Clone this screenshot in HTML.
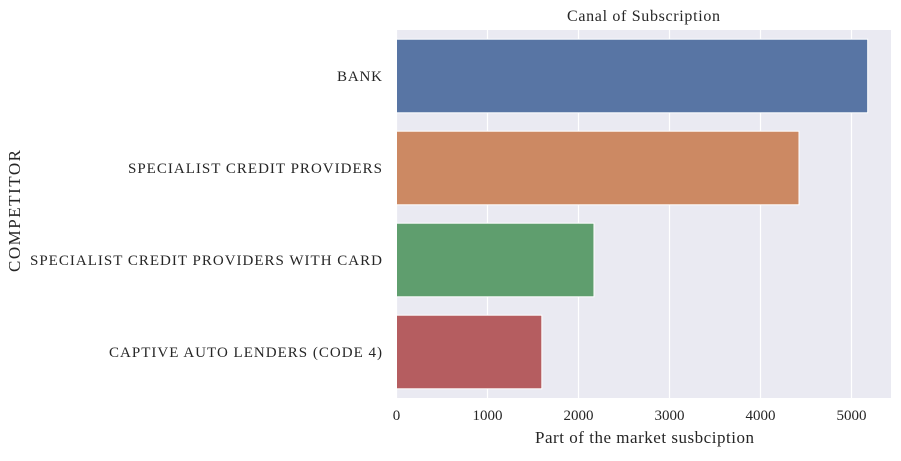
<!DOCTYPE html>
<html><head><meta charset="utf-8"><style>
body{margin:0;background:#fff;}
svg text{font-family:"Liberation Serif",serif;fill:#262626;}
</style></head><body>
<svg id="chart" width="901" height="456"></svg>
<script>
const categories=["BANK","SPECIALIST CREDIT PROVIDERS","SPECIALIST CREDIT PROVIDERS WITH CARD","CAPTIVE AUTO LENDERS (CODE 4)"];
const values=[5178,4423,2170,1597];
const colors=["#5875a4","#cc8963","#5f9e6e","#b55d60"];
const ticks=[0,1000,2000,3000,4000,5000];
const NS="http://www.w3.org/2000/svg";
const svg=document.getElementById('chart');
const L=396.5,R=891,T=30,B=398;
const x=v=>L+v*0.091;
const band=(B-T)/categories.length;
const y=i=>T+band*(i+0.5);
const labelWidths=[45,254,352,273];
function mk(t,a,p){const e=document.createElementNS(NS,t);for(const k in a)e.setAttribute(k,a[k]);(p||svg).appendChild(e);return e;}
function fit(e,w){e.setAttribute('textLength',w);e.setAttribute('lengthAdjust','spacing');}
const bg=mk('rect',{x:L,y:T,width:R-L,height:B-T,fill:'#eaeaf2'});


ticks.forEach(t=>{
 const g=mk('line',{x1:x(t),x2:x(t),y1:T,y2:B,stroke:'#fff','stroke-width':1.2});
 
 
 const tx=mk('text',{x:x(t),y:420,'text-anchor':'middle','font-size':15});
 tx.textContent=t;
 
 
});
categories.forEach((c,i)=>{
 const h=band*0.8;
 const r=mk('rect',{x:L,y:y(i)-h/2,width:x(values[i])-L,height:h,fill:colors[i],stroke:'#fff','stroke-width':1});
 
 
 const tx=mk('text',{x:382,y:y(i)+5,'text-anchor':'end','font-size':15});
 tx.textContent=c;
 fit(tx,labelWidths[i]||c.length*9.5);
 
 
});
const title=mk('text',{x:643.5,y:21,'text-anchor':'middle','font-size':16});
title.textContent='Canal of Subscription';
fit(title,153);


const xl=mk('text',{x:644.5,y:443,'text-anchor':'middle','font-size':17});
xl.textContent='Part of the market susbciption';
fit(xl,219);


const yl=mk('text',{x:0,y:0,'text-anchor':'middle','font-size':17,transform:'translate(20,211) rotate(-90)'});
yl.textContent='COMPETITOR';
fit(yl,122);


</script>
</body></html>
